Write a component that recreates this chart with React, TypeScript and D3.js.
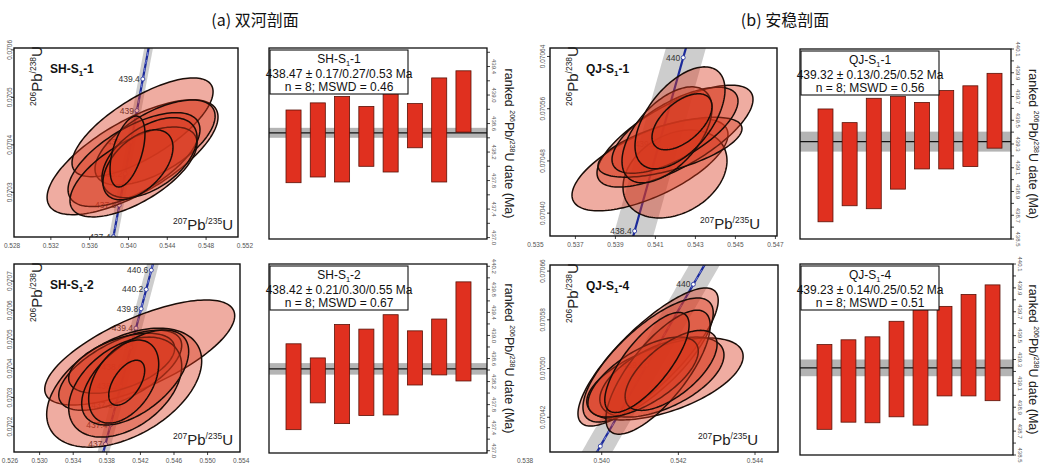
import * as d3 from 'd3'

const W = 1046
const H = 465

// decay constants, per Ma
const L238 = 1.55125e-4
const L235 = 9.8485e-4
const r206 = (t: number) => Math.exp(L238 * t) - 1
const r207 = (t: number) => Math.exp(L235 * t) - 1

// ellipses: [207Pb/235U, half width, 206Pb/238U, half height, rho]
const shS1_1Ellipses = [
  [0.54042, 0.00881, 0.070374, 0.000121, 0.7],
  [0.54145, 0.00727, 0.070437, 0.000104, 0.72],
  [0.54274, 0.00619, 0.070405, 0.0000895, 0.62],
  [0.54057, 0.0068, 0.070369, 0.0000989, 0.64],
  [0.54052, 0.00655, 0.070343, 0.0000947, 0.64],
  [0.54217, 0.0049, 0.070373, 0.0000842, 0.5],
  [0.54098, 0.00361, 0.070358, 0.0000737, 0.5],
  [0.5399, 0.0018, 0.070386, 0.0000747, 0.5],
]
const shS1_2Ellipses = [
  [0.54192, 0.01131, 0.070455, 0.0001804, 0.7],
  [0.54007, 0.00923, 0.070334, 0.0002045, 0.45],
  [0.5396, 0.00732, 0.070394, 0.0001375, 0.62],
  [0.53977, 0.00631, 0.070418, 0.0001031, 0.5],
  [0.54019, 0.00673, 0.070336, 0.0001718, 0.42],
  [0.54138, 0.00637, 0.070369, 0.0001632, 0.55],
  [0.54001, 0.00417, 0.070355, 0.0001426, 0.42],
  [0.54037, 0.00214, 0.070351, 0.0000773, 0.55],
]
const qjS1_1Ellipses = [
  [0.54073, 0.0039, 0.070474, 0.0000704, 0.66],
  [0.54198, 0.0026, 0.07046, 0.0000674, 0.3],
  [0.54198, 0.0039, 0.070518, 0.0000781, 0.72],
  [0.54173, 0.0036, 0.070501, 0.0000459, 0.62],
  [0.54198, 0.00315, 0.070527, 0.0000659, 0.68],
  [0.54158, 0.00225, 0.07052, 0.0000735, 0.55],
  [0.54223, 0.00225, 0.070546, 0.0000781, 0.55],
  [0.54233, 0.0015, 0.07054, 0.0000429, 0.55],
]
const qjS1_4Ellipses = [
  [0.54121, 0.00183, 0.070519, 0.0001133, 0.82],
  [0.54121, 0.0017, 0.070514, 0.0001018, 0.76],
  [0.54165, 0.00204, 0.070483, 0.0000673, 0.55],
  [0.54157, 0.00162, 0.070486, 0.0000657, 0.55],
  [0.54147, 0.00136, 0.070494, 0.0001018, 0.75],
  [0.54108, 0.00144, 0.070486, 0.0000657, 0.65],
  [0.54181, 0.0012, 0.070497, 0.0000657, 0.65],
  [0.54118, 0.0011, 0.07051, 0.0000821, 0.75],
]

// concordia age marks (Ma) and which of them carry a label
const shS1_1Ages = [437.4, 437.8, 438.2, 438.6, 439.0, 439.4]
const shS1_1AgeLabels = shS1_1Ages
const shS1_2Ages = [437.0, 437.4, 437.8, 438.2, 438.6, 439.0, 439.4, 439.8, 440.2, 440.6]
const shS1_2AgeLabels = shS1_2Ages
const qjS1_1Ages = [438.4, 439.2, 440.0]
const qjS1_1AgeLabels = [438.4, 439.2, 440.0]
const qjS1_4Ages = [438.4, 439.2, 440.0]
const qjS1_4AgeLabels = [439.2, 440.0]

// ranked dates (Ma) and 2s errors
const shS1_1Dates = [438.28, 438.37, 438.38, 438.42, 438.48, 438.57, 438.51, 438.91]
const shS1_1Errors = [0.51, 0.52, 0.6, 0.42, 0.56, 0.31, 0.73, 0.43]
const shS1_2Dates = [438.11, 438.22, 438.33, 438.36, 438.49, 438.61, 438.8, 439.07]
const shS1_2Errors = [0.745, 0.39, 0.86, 0.75, 0.87, 0.47, 0.485, 0.86]
const qjS1_1Dates = [439.12, 439.13, 439.22, 439.31, 439.37, 439.42, 439.45, 439.58]
const qjS1_1Errors = [0.475, 0.35, 0.465, 0.39, 0.28, 0.33, 0.34, 0.315]
const qjS1_4Dates = [439.07, 439.12, 439.13, 439.22, 439.25, 439.37, 439.42, 439.44]
const qjS1_4Errors = [0.355, 0.345, 0.36, 0.4, 0.5, 0.375, 0.425, 0.485]

const shS1_1DateTicks = [437.0, 437.4, 437.8, 438.2, 438.6, 439.0, 439.4]
const shS1_2DateTicks = [437.0, 437.4, 437.8, 438.2, 438.6, 439.0, 439.4, 439.8, 440.2]
const qjDateTicks = [438.5, 438.7, 438.9, 439.1, 439.3, 439.5, 439.7, 439.9, 440.1]

const FONT = 'Liberation Sans, Arial, sans-serif'
const ELL_FILL = '#d8391f'
const BLUE = '#1b2a9a'

const concordiaPanels = [
  {
    id: 'c1', sample: '-1', ellipses: shS1_1Ellipses, ages: shS1_1Ages, ageLabels: shS1_1AgeLabels,
    frame: { l: 14, r: 238, t: 48, b: 237 },
    xDomain: [0.5282, 0.55129], yDomain: [0.070206, 0.070604],
    xTicks: [0.528, 0.532, 0.536, 0.54, 0.544, 0.548, 0.552], xFmt: '.3f',
    yTicks: [0.0703, 0.0704, 0.0705, 0.0706], yFmt: '.4f',
    bandHalf: 0.00045, ageRange: [436.5, 440.5], dashed: true, prefix: 'SH-S',
    yLabelX: 12, xLabelRight: 5,
  },
  {
    id: 'c2', sample: '-2', ellipses: shS1_2Ellipses, ages: shS1_2Ages, ageLabels: shS1_2AgeLabels,
    frame: { l: 14, r: 240, t: 264, b: 452 },
    xDomain: [0.52695, 0.55386], yDomain: [0.070113, 0.070759],
    xTicks: [0.526, 0.53, 0.534, 0.538, 0.542, 0.546, 0.55, 0.554], xFmt: '.3f',
    yTicks: [0.0702, 0.0703, 0.0704, 0.0705, 0.0706, 0.0707], yFmt: '.4f',
    bandHalf: 0.0007, ageRange: [436, 441.5], dashed: true, prefix: 'SH-S',
    yLabelX: 12, xLabelRight: 7,
  },
  {
    id: 'c3', sample: '-1', ellipses: qjS1_1Ellipses, ages: qjS1_1Ages, ageLabels: qjS1_1AgeLabels,
    frame: { l: 550, r: 777, t: 48, b: 236 },
    xDomain: [0.53573, 0.54708], yDomain: [0.070365, 0.070653],
    xTicks: [0.535, 0.537, 0.539, 0.541, 0.543, 0.545, 0.547], xFmt: '.3f',
    yTicks: [0.0704, 0.07048, 0.07056, 0.07064], yFmt: '.5f',
    bandHalf: 0.001, ageRange: [437.5, 440.8], dashed: false, prefix: 'QJ-S',
    yLabelX: 545, xLabelRight: 17,
  },
  {
    id: 'c4', sample: '-4', ellipses: qjS1_4Ellipses, ages: qjS1_4Ages, ageLabels: qjS1_4AgeLabels,
    frame: { l: 550, r: 778, t: 265, b: 452 },
    xDomain: [0.53865, 0.5446], yDomain: [0.070363, 0.07067],
    xTicks: [0.538, 0.54, 0.542, 0.544], xFmt: '.3f',
    yTicks: [0.07042, 0.0705, 0.07058, 0.07066], yFmt: '.5f',
    bandHalf: 0.0004, ageRange: [437.5, 441], dashed: true, prefix: 'QJ-S',
    yLabelX: 545, xLabelRight: 20,
  },
]

const rankedPanels = [
  {
    id: 'r1', name: '-1', prefix: 'SH-S', dates: shS1_1Dates, errors: shS1_1Errors,
    mean: 438.47, meanText: '438.47 ± 0.17/0.27/0.53 Ma', stats: 'n = 8; MSWD = 0.46', bandHalf: 0.07,
    frame: { l: 269, r: 487, t: 48, b: 239 }, domain: [436.98, 439.66], ticks: shS1_1DateTicks, minor: 0.2,
    bars: [286, 471], axisTitleX: 505,
  },
  {
    id: 'r2', name: '-2', prefix: 'SH-S', dates: shS1_2Dates, errors: shS1_2Errors,
    mean: 438.42, meanText: '438.42 ± 0.21/0.30/0.55 Ma', stats: 'n = 8; MSWD = 0.67', bandHalf: 0.1,
    frame: { l: 269, r: 487, t: 264, b: 453 }, domain: [436.96, 440.24], ticks: shS1_2DateTicks, minor: 0.2,
    bars: [286, 471], axisTitleX: 505,
  },
  {
    id: 'r3', name: '-1', prefix: 'QJ-S', dates: qjS1_1Dates, errors: qjS1_1Errors,
    mean: 439.32, meanText: '439.32 ± 0.13/0.25/0.52 Ma', stats: 'n = 8; MSWD = 0.56', bandHalf: 0.084,
    frame: { l: 800, r: 1011, t: 49, b: 239 }, domain: [438.5, 440.1], ticks: qjDateTicks, minor: 0.1,
    bars: [818, 1002], axisTitleX: 1029,
  },
  {
    id: 'r4', name: '-4', prefix: 'QJ-S', dates: qjS1_4Dates, errors: qjS1_4Errors,
    mean: 439.23, meanText: '439.23 ± 0.14/0.25/0.52 Ma', stats: 'n = 8; MSWD = 0.51', bandHalf: 0.07,
    frame: { l: 800, r: 1013, t: 264, b: 455 }, domain: [438.5, 440.1], ticks: qjDateTicks, minor: 0.1,
    bars: [817, 1000], axisTitleX: 1029,
  },
]

function ellipsePath(e: number[], x: any, y: any) {
  const [cx, sx, cy, sy, rho] = e
  const k = Math.sqrt(1 - rho * rho)
  const pts = d3.range(0, 2 * Math.PI, Math.PI / 72).map(t => [
    x(cx + sx * Math.cos(t)),
    y(cy + sy * (rho * Math.cos(t) + k * Math.sin(t))),
  ] as [number, number])
  return d3.line().curve(d3.curveLinearClosed)(pts) || ''
}

function ConcordiaPanel({ p }: { p: any }) {
  const { l, r, t, b } = p.frame
  const x = d3.scaleLinear().domain(p.xDomain).range([l, r])
  const y = d3.scaleLinear().domain(p.yDomain).range([b, t])
  const ts = d3.range(p.ageRange[0], p.ageRange[1], 0.02)
  const band = d3.area<number>()
    .y(a => y(r206(a)))
    .x0(a => x(r207(a) - p.bandHalf))
    .x1(a => x(r207(a) + p.bandHalf))
  const line = d3.line<number>().x(a => x(r207(a))).y(a => y(r206(a)))
  const clip = `clip-${p.id}`
  return (
    <g fontFamily={FONT}>
      <defs>
        <clipPath id={clip}><rect x={l} y={t} width={r - l} height={b - t} /></clipPath>
      </defs>
      <g clipPath={`url(#${clip})`}>
        <path d={band(ts) || ''} fill="#c4c4c4" opacity={0.85} />
        <path d={line(ts) || ''} fill="none" stroke={BLUE} strokeWidth={2.2} />
        {p.dashed && <path d={line(ts) || ''} fill="none" stroke="#9aa6f0" strokeWidth={0.8} strokeDasharray="4 4" />}
        {p.ages.map((a: number) => (
          <circle key={a} cx={x(r207(a))} cy={y(r206(a))} r={2} fill="#fff" stroke={BLUE} strokeWidth={0.8} />
        ))}
        {p.ageLabels.map((a: number) => (
          <text key={a} x={x(r207(a)) - 3} y={y(r206(a)) + 3} textAnchor="end" fontSize={8.5} fill="#333">{a.toFixed(a % 1 === 0 ? 0 : 1)}</text>
        ))}
        {p.ellipses.map((e: number[], i: number) => (
          <path key={i} d={ellipsePath(e, x, y)} fill={ELL_FILL} fillOpacity={0.42} stroke="#1a0d08" strokeWidth={1.5} />
        ))}
      </g>
      <rect x={l} y={t} width={r - l} height={b - t} fill="none" stroke="#111" strokeWidth={1.4} />
      {p.xTicks.map((v: number) => (
        <g key={v}>
          {x(v) > l && x(v) < r && <line x1={x(v)} x2={x(v)} y1={b} y2={b + 3} stroke="#111" strokeWidth={0.8} />}
          <text x={Math.max(x(v), 10)} y={b + 11} textAnchor="middle" fontSize={6.5} fill="#555">{d3.format(p.xFmt)(v)}</text>
        </g>
      ))}
      {p.yTicks.map((v: number) => (
        <g key={v}>
          <line x1={l - 3} x2={l} y1={y(v)} y2={y(v)} stroke="#111" strokeWidth={0.8} />
          <text transform={`translate(${p.yLabelX},${y(v)}) rotate(-90)`} textAnchor="middle" fontSize={6.5} fill="#555">{d3.format(p.yFmt)(v)}</text>
        </g>
      ))}
      <text x={l + 36} y={t + 25} fontSize={12} fontWeight="bold" fill="#111">
        {p.prefix}<tspan fontSize={8} dy={3}>1</tspan><tspan dy={-3}>{p.sample}</tspan>
      </text>
      <text transform={`translate(${l + 28},${t + 58}) rotate(-90)`} fill="#222">
        <tspan fontSize={8.5} dy={-6}>206</tspan><tspan fontSize={15} dy={6}>Pb</tspan>
        <tspan fontSize={8.5} dy={-6}>/238</tspan><tspan fontSize={15} dy={6}>U</tspan>
      </text>
      <text x={r - p.xLabelRight} y={b - 7} textAnchor="end" fill="#222">
        <tspan fontSize={8.5} dy={-6}>207</tspan><tspan fontSize={15} dy={6}>Pb</tspan>
        <tspan fontSize={8.5} dy={-6}>/235</tspan><tspan fontSize={15} dy={6}>U</tspan>
      </text>
    </g>
  )
}

function RankedPanel({ p }: { p: any }) {
  const { l, r, t, b } = p.frame
  const y = d3.scaleLinear().domain(p.domain).range([b, t])
  const x = d3.scaleBand<number>().domain(d3.range(p.dates.length)).range(p.bars).paddingInner(0.38)
  const minor = d3.range(Math.ceil(p.domain[0] / p.minor) * p.minor, p.domain[1], p.minor)
  const cx = l + 70
  return (
    <g fontFamily={FONT}>
      <rect x={l} y={y(p.mean + p.bandHalf)} width={r - l} height={y(p.mean - p.bandHalf) - y(p.mean + p.bandHalf)} fill="#b4b4b4" />
      <line x1={l} x2={r} y1={y(p.mean)} y2={y(p.mean)} stroke="#111" strokeWidth={1.3} />
      {p.dates.map((d: number, i: number) => (
        <rect key={i} x={x(i)} width={x.bandwidth()} y={y(d + p.errors[i])} height={y(d - p.errors[i]) - y(d + p.errors[i])}
          fill="#e0301f" stroke="#5a1208" strokeWidth={0.8} />
      ))}
      <rect x={l + 1} y={t + 2} width={138} height={44} fill="#fff" stroke="#111" strokeWidth={1.1} />
      <text x={cx} y={t + 15} textAnchor="middle" fontSize={12} fill="#111">
        {p.prefix}<tspan fontSize={7.5} dy={3}>1</tspan><tspan dy={-3}>{p.name}</tspan>
      </text>
      <text x={cx} y={t + 29.5} textAnchor="middle" fontSize={12} fill="#111">{p.meanText}</text>
      <text x={cx} y={t + 43} textAnchor="middle" fontSize={12} fill="#111">{p.stats}</text>
      <rect x={l} y={t} width={r - l} height={b - t} fill="none" stroke="#111" strokeWidth={1.3} />
      {minor.map((v: number) => (
        <line key={v} x1={r} x2={r + 3} y1={y(v)} y2={y(v)} stroke="#111" strokeWidth={0.8} />
      ))}
      {p.ticks.map((v: number) => (
        <text key={v} transform={`translate(${r + 5},${y(v)}) rotate(90)`} textAnchor="middle" fontSize={6} fill="#555">{v.toFixed(1)}</text>
      ))}
      <text transform={`translate(${p.axisTitleX},${(t + b) / 2}) rotate(90)`} textAnchor="middle" fontSize={12.5} fill="#222">
        ranked <tspan fontSize={7} dy={-5}>206</tspan><tspan dy={5}>Pb/</tspan><tspan fontSize={7} dy={-5}>238</tspan><tspan dy={5}>U date (Ma)</tspan>
      </text>
    </g>
  )
}

export default function App() {
  return (
    <svg width={W} height={H} style={{ position: 'absolute', left: 0, top: 0, background: '#fff' }}>
      <text x={255} y={26} textAnchor="middle" fontSize={16} fontFamily="Noto Sans CJK SC, sans-serif" fill="#111">(a) 双河剖面</text>
      <text x={785} y={26} textAnchor="middle" fontSize={16} fontFamily="Noto Sans CJK SC, sans-serif" fill="#111">(b) 安稳剖面</text>
      {concordiaPanels.map(p => <ConcordiaPanel key={p.id} p={p} />)}
      {rankedPanels.map(p => <RankedPanel key={p.id} p={p} />)}
    </svg>
  )
}
